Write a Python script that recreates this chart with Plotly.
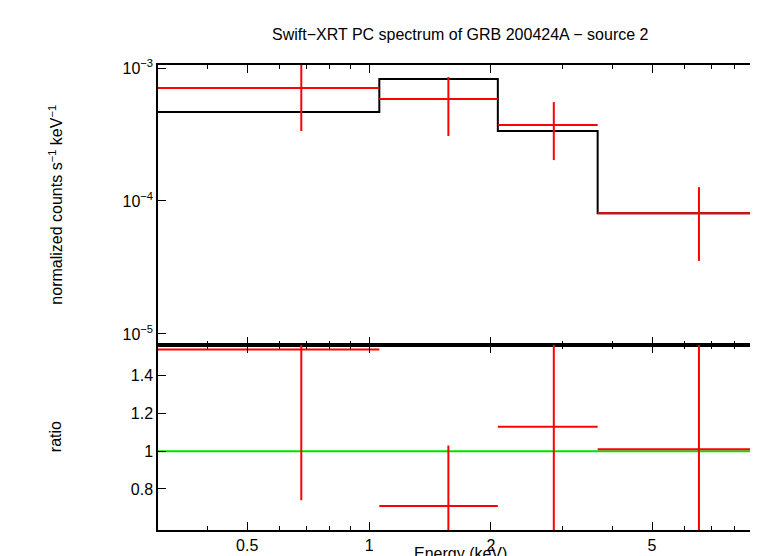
import plotly.graph_objects as go
import numpy as np

# data
bin_lo = [0.3, 1.06, 2.08, 3.67]
bin_hi = [1.06, 2.08, 3.67, 9.4]
e_ctr = [0.68, 1.57, 2.86, 6.53]
rate = [7.08e-4, 5.85e-4, 3.73e-4, 8.1e-5]
rate_hi = [1.2e-3, 8.56e-4, 5.55e-4, 1.27e-4]
rate_lo = [3.36e-4, 3.08e-4, 2.03e-4, 3.54e-5]
model = [4.67e-4, 8.27e-4, 3.36e-4, 8.1e-5]
ratio = [1.54, 0.71, 1.13, 1.01]
ratio_hi = [2.0, 1.03, 2.0, 2.0]
ratio_lo = [0.74, 0.5, 0.5, 0.5]
x_ticks = [0.5, 1, 2, 5]
x_minor = [0.4, 0.6, 0.7, 0.8, 0.9, 3, 4, 6, 7, 8, 9]

fig = go.Figure()
red = dict(color="red", width=2)

def data_trace(y, yhi, ylo, xa, ya):
    xs, ys = [], []
    for i in range(len(y)):
        xs += [bin_lo[i], bin_hi[i], None, e_ctr[i], e_ctr[i], None]
        ys += [y[i], y[i], None, ylo[i], yhi[i], None]
    return go.Scatter(x=xs, y=ys, mode="lines", line=red, xaxis=xa, yaxis=ya,
                      showlegend=False, hoverinfo="skip")

mx, my = [], []
for i in range(len(model)):
    mx += [bin_lo[i], bin_hi[i]]
    my += [model[i], model[i]]
fig.add_trace(go.Scatter(x=mx, y=my, mode="lines", line=dict(color="black", width=2),
                         xaxis="x", yaxis="y", showlegend=False))
fig.add_trace(data_trace(rate, rate_hi, rate_lo, "x", "y"))
fig.add_trace(go.Scatter(x=[0.3, 9.4], y=[1, 1], mode="lines", line=dict(color="#00e000", width=2),
                         xaxis="x2", yaxis="y2", showlegend=False))
fig.add_trace(data_trace(ratio, ratio_hi, ratio_lo, "x2", "y2"))

xr = [np.log10(0.301), np.log10(9.4)]
common = dict(showline=True, linecolor="black", linewidth=1.5, mirror="ticks", ticks="inside",
              showgrid=False, zeroline=False, tickcolor="black", ticklen=8, automargin=False)
fig.update_layout(
    width=758, height=556, plot_bgcolor="white", paper_bgcolor="white",
    margin=dict(l=150, r=3, t=57, b=34, autoexpand=False),
    font=dict(family="Liberation Sans, Arial", size=16, color="black"),
    xaxis=dict(type="log", range=xr, domain=[0, 1], anchor="y", showticklabels=False,
               tickvals=x_ticks, **common),
    yaxis=dict(type="log", range=[-5.083, -2.977], domain=[0.398, 1], anchor="x",
               tickvals=[1e-5, 1e-4, 1e-3], ticktext=["10<sup>−5</sup>", "10<sup>−4</sup>", "10<sup>−3</sup>"],
               **common),
    xaxis2=dict(type="log", range=xr, domain=[0, 1], anchor="y2",
                tickvals=x_ticks, ticktext=["0.5", "1", "2", "5"], **common),
    yaxis2=dict(range=[0.582, 1.564], domain=[0, 0.398], anchor="x2",
                tickvals=[0.8, 1, 1.2, 1.4], ticktext=["0.8", "1", "1.2", "1.4"], **common),
    annotations=[
        dict(text="Swift−XRT PC spectrum of GRB 200424A − source 2", xref="paper", yref="paper",
             x=0.5, y=1.065, xanchor="center", yanchor="middle", showarrow=False, font=dict(size=16)),
        dict(text="normalized counts s<sup>−1</sup> keV<sup>−1</sup>", xref="paper", yref="paper",
             x=-0.17, y=0.70, textangle=-90, showarrow=False, xanchor="center", yanchor="middle"),
        dict(text="ratio", xref="paper", yref="paper", x=-0.17, y=0.2,
             textangle=-90, showarrow=False, xanchor="center", yanchor="middle"),
        dict(text="Energy (keV)", xref="paper", yref="paper", x=0.5, y=-0.05,
             showarrow=False, xanchor="center", yanchor="middle"),
    ],
)
# minor ticks as short shapes-free approach: extra tick marks via minor
for ax in ("xaxis", "xaxis2"):
    fig.layout[ax].minor = dict(tickvals=x_minor, ticks="inside", ticklen=4, tickcolor="black")
fig.write_html("out.html")
